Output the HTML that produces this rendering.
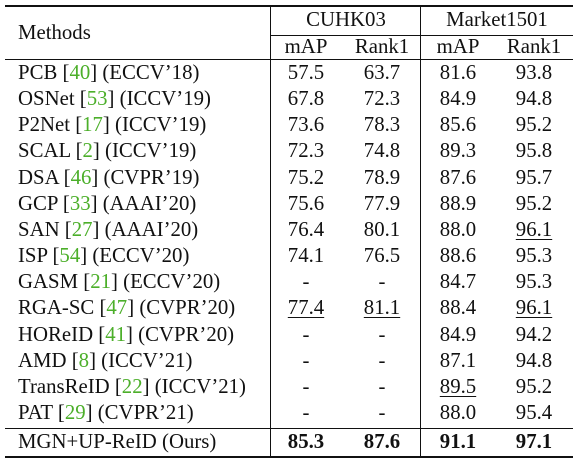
<!DOCTYPE html>
<html><head><meta charset="utf-8"><style>
body{margin:0;width:573px;height:462px;background:#fff;position:relative;overflow:hidden;font-family:"Liberation Serif",serif;font-size:20.8px;color:#111}
.t{position:absolute;white-space:nowrap;line-height:20px;transform:translate(-50%,-50%)}
.l{position:absolute;white-space:nowrap;line-height:20px;transform:translateY(-50%);left:18px}
.h{position:absolute;background:#111}
.c{color:#4caf2a}
u{text-decoration:underline;text-underline-offset:3px;text-decoration-thickness:1px}
b{font-weight:bold}
</style></head><body>
<div class="h" style="left:5px;top:5px;width:568px;height:2px"></div>
<div class="h" style="left:271px;top:35px;width:302px;height:1px"></div>
<div class="h" style="left:5px;top:59px;width:568px;height:1px"></div>
<div class="h" style="left:5px;top:428px;width:568px;height:1px"></div>
<div class="h" style="left:5px;top:456px;width:568px;height:2px"></div>
<div class="h" style="left:270px;top:7px;width:1px;height:449px"></div>
<div class="h" style="left:420px;top:7px;width:1px;height:449px"></div>
<div class="l" style="top:33px">Methods</div>
<div class="t" style="left:346px;top:20px">CUHK03</div>
<div class="t" style="left:497px;top:20px">Market1501</div>
<div class="t" style="left:306px;top:47px">mAP</div>
<div class="t" style="left:382px;top:47px">Rank1</div>
<div class="t" style="left:458px;top:47px">mAP</div>
<div class="t" style="left:534px;top:47px">Rank1</div>
<div id="rows"></div>
<script>
const names=[["PCB ","40"," (ECCV’18)"],["OSNet ","53"," (ICCV’19)"],["P2Net ","17"," (ICCV’19)"],["SCAL ","2"," (ICCV’19)"],["DSA ","46"," (CVPR’19)"],["GCP ","33"," (AAAI’20)"],["SAN ","27"," (AAAI’20)"],["ISP ","54"," (ECCV’20)"],["GASM ","21"," (ECCV’20)"],["RGA-SC ","47"," (CVPR’20)"],["HOReID ","41"," (CVPR’20)"],["AMD ","8"," (ICCV’21)"],["TransReID ","22"," (ICCV’21)"],["PAT ","29"," (CVPR’21)"]];
const vals=[["57.5","63.7","81.6","93.8"],["67.8","72.3","84.9","94.8"],["73.6","78.3","85.6","95.2"],["72.3","74.8","89.3","95.8"],["75.2","78.9","87.6","95.7"],["75.6","77.9","88.9","95.2"],["76.4","80.1","88.0","_96.1"],["74.1","76.5","88.6","95.3"],["-","-","84.7","95.3"],["_77.4","_81.1","88.4","_96.1"],["-","-","84.9","94.2"],["-","-","87.1","94.8"],["-","-","_89.5","95.2"],["-","-","88.0","95.4"]];
const ours=["85.3","87.6","91.1","97.1"];
const cx=[306,382,458,534];
const R=document.getElementById('rows');
function cell(txt,x,y,cls){const d=document.createElement('div');d.className=cls;d.style.top=y+'px';if(x!==null)d.style.left=x+'px';d.innerHTML=txt;R.appendChild(d);return d;}
names.forEach((n,i)=>{const y=73+i*26.15;
const d=cell(n[0]+'[<span class="c">'+n[1]+'</span>]'+n[2],null,y,'l');


vals[i].forEach((v,j)=>{const t=v[0]=='_'?'<u>'+v.slice(1)+'</u>':v;const e=cell(t,cx[j],y,'t');

});});
const o=cell('MGN+UP-ReID (Ours)',null,442,'l');


ours.forEach((v,j)=>{const e=cell('<b>'+v+'</b>',cx[j],442,'t');

});
</script>
</body></html>
